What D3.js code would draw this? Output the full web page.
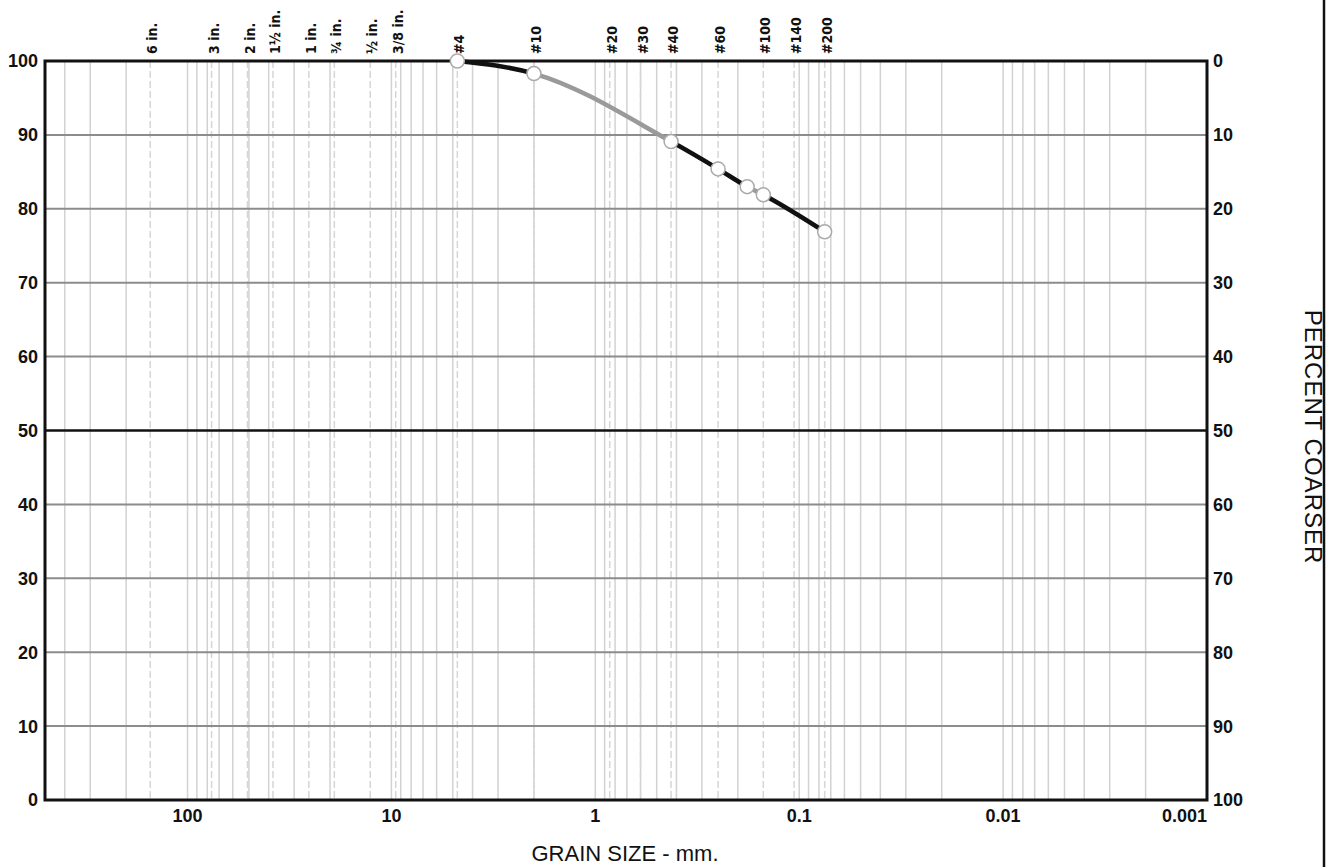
<!DOCTYPE html>
<html>
<head>
<meta charset="utf-8">
<script src="https://cdn.jsdelivr.net/npm/d3@7"></script>
<style>
    body { margin: 0; background: #fff; }
    svg { display: block; font-family: "Liberation Sans", Arial, sans-serif; }
</style>
</head>
<body>
<svg id="chart"></svg>
<script>
// sieve openings shown along the top (mm)
const sieveLabels = ["6 in.", "3 in.", "2 in.", "1½ in.", "1 in.", "¾ in.", "½ in.", "3/8 in.",
    "#4", "#10", "#20", "#30", "#40", "#60", "#100", "#140", "#200"];
const sieveSizes = [152.4, 76.2, 50.8, 38.1, 25.4, 19.05, 12.7, 9.525,
    4.75, 2.0, 0.85, 0.6, 0.425, 0.25, 0.15, 0.106, 0.075];

// test results
const grainSize = [4.75, 2.0, 0.425, 0.25, 0.18, 0.15, 0.075];
const percentFiner = [100, 98.3, 89.1, 85.4, 83.0, 81.9, 76.9];

const xTickValues = [100, 10, 1, 0.1, 0.01, 0.001];
const yTickValues = [0, 10, 20, 30, 40, 50, 60, 70, 80, 90, 100];

// colour of each piece of the curve between two points
const segmentStroke = ["#111", "#9a9a9a", "#111", "#111", "#9a9a9a", "#111"];

const width = 1330, height = 867;
const plotLeft = 45, plotRight = 1207, plotTop = 61, plotBottom = 800;

const svg = d3.select("#chart").attr("width", width).attr("height", height);

const x = d3.scaleLog().domain([500, 0.001]).range([plotLeft, plotRight]);
const y = d3.scaleLinear().domain([0, 100]).range([plotBottom, plotTop]);

// minor log grid
const minor = [];
for (let k = -3; k <= 2; k++) {
    for (let n = 1; n <= 9; n++) {
        const v = n * Math.pow(10, k);
        if (v > 0.001 && v < 500) minor.push(v);
    }
}
svg.append("g")
    .selectAll("line")
    .data(minor)
    .enter()
    .append("line")
    .attr("x1", d => x(d)).attr("x2", d => x(d))
    .attr("y1", plotTop).attr("y2", plotBottom)
    .attr("stroke", "#d2d2d2")
    .attr("stroke-width", 1.5);

svg.append("g")
    .selectAll("line")
    .data(sieveSizes)
    .enter()
    .append("line")
    .attr("x1", d => x(d)).attr("x2", d => x(d))
    .attr("y1", plotTop).attr("y2", plotBottom)
    .attr("stroke", "#d6d6d6")
    .attr("stroke-width", 1.5)
    .attr("stroke-dasharray", "7,3");

// horizontal grid
svg.append("g")
    .selectAll("line")
    .data(yTickValues.filter(v => v > 0 && v < 100))
    .enter()
    .append("line")
    .attr("x1", plotLeft).attr("x2", plotRight)
    .attr("y1", d => y(d)).attr("y2", d => y(d))
    .attr("stroke", d => d == 50 ? "#111" : "#8c8c8c")
    .attr("stroke-width", d => d == 50 ? 2.5 : 2);

// plot frame
svg.append("rect")
    .attr("x", plotLeft).attr("y", plotTop)
    .attr("width", plotRight - plotLeft).attr("height", plotBottom - plotTop)
    .attr("fill", "none")
    .attr("stroke", "#111")
    .attr("stroke-width", 3);

// page frame line on the right
svg.append("line")
    .attr("x1", 1324).attr("x2", 1324)
    .attr("y1", 0).attr("y2", height)
    .attr("stroke", "#111")
    .attr("stroke-width", 2.5);

// left axis labels (percent finer)
svg.append("g")
    .selectAll("text")
    .data(yTickValues)
    .enter()
    .append("text")
    .attr("x", 38)
    .attr("y", d => y(d))
    .attr("dy", "0.36em")
    .attr("text-anchor", "end")
    .attr("font-size", 18)
    .attr("font-weight", "bold")
    .attr("fill", "#111")
    .text(d => d);

// right axis labels (percent coarser)
svg.append("g")
    .selectAll("text")
    .data(yTickValues)
    .enter()
    .append("text")
    .attr("x", 1213)
    .attr("y", d => y(d))
    .attr("dy", "0.36em")
    .attr("font-size", 18)
    .attr("font-weight", "bold")
    .attr("fill", "#111")
    .text(d => 100 - d);

// bottom axis labels
svg.append("g")
    .selectAll("text")
    .data(xTickValues)
    .enter()
    .append("text")
    .attr("x", d => d == 0.001 ? plotRight : x(d))
    .attr("y", 822)
    .attr("text-anchor", d => d == 0.001 ? "end" : "middle")
    .attr("font-size", 18)
    .attr("font-weight", "bold")
    .attr("fill", "#111")
    .text(d => d);

// sieve labels on top
svg.append("g")
    .selectAll("text")
    .data(sieveSizes)
    .enter()
    .append("text")
    .attr("transform", d => `translate(${x(d) + 2}, 54) rotate(-90)`)
    .attr("dy", "0.36em")
    .attr("font-family", "'DejaVu Sans Condensed', 'Liberation Sans Narrow', 'Liberation Sans', sans-serif")
    .attr("font-size", 14)
    .attr("font-weight", "bold")
    .attr("fill", "#111")
    .text((d, i) => sieveLabels[i]);

// axis titles
svg.append("text")
    .attr("x", 625)
    .attr("y", 861)
    .attr("text-anchor", "middle")
    .attr("font-size", 22)
    .attr("fill", "#111")
    .text("GRAIN SIZE - mm.");

svg.append("text")
    .attr("transform", "translate(1305, 437) rotate(90)")
    .attr("text-anchor", "middle")
    .attr("font-size", 24)
    .attr("letter-spacing", 1)
    .attr("fill", "#111")
    .text("PERCENT COARSER");

// gradation curve
const points = grainSize.map((g, i) => ({ size: g, pct: percentFiner[i] }));
const line = d3.line()
    .x(d => x(d.size))
    .y(d => y(d.pct))
    .curve(d3.curveMonotoneX);

const defs = svg.append("defs");
for (let i = 0; i < points.length - 1; i++) {
    const x0 = x(points[i].size), x1 = x(points[i + 1].size);
    defs.append("clipPath")
        .attr("id", "seg" + i)
        .append("rect")
        .attr("x", x0).attr("y", 0)
        .attr("width", x1 - x0).attr("height", height);
    svg.append("path")
        .datum(points)
        .attr("d", line)
        .attr("clip-path", `url(#seg${i})`)
        .attr("fill", "none")
        .attr("stroke", segmentStroke[i])
        .attr("stroke-width", 4.5);
}

svg.append("g")
    .selectAll("circle")
    .data(points)
    .enter()
    .append("circle")
    .attr("cx", d => x(d.size))
    .attr("cy", d => y(d.pct))
    .attr("r", 7)
    .attr("fill", "#fff")
    .attr("stroke", "#aaa")
    .attr("stroke-width", 1.5);
</script>
</body>
</html>
